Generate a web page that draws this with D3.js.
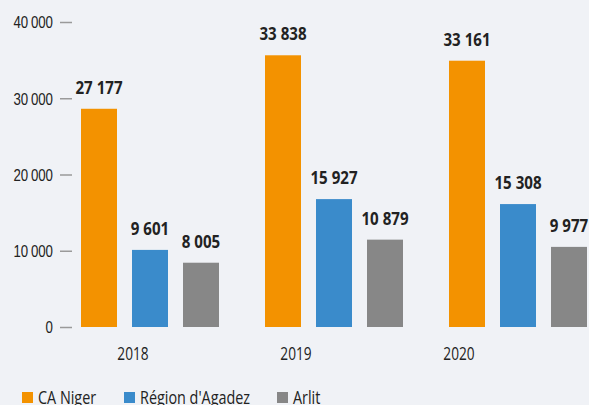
<!DOCTYPE html>
<html>
<head>
<meta charset="utf-8">
<script src="https://cdn.jsdelivr.net/npm/d3@7"></script>
<style>
  body { margin: 0; background: #f0f2f6; }
  svg { display: block; font-family: "Open Sans", sans-serif; }
</style>
</head>
<body>
<div id="chart"></div>
<script>
// Data
var years = ["2018", "2019", "2020"];
var seriesNames = ["CA Niger", "Région d'Agadez", "Arlit"];
var caNiger = [27177, 33838, 33161];
var agadez = [9601, 15927, 15308];
var arlit = [8005, 10879, 9977];
var yTicks = [0, 10000, 20000, 30000, 40000];
var colors = ["#f39200", "#3a8bcb", "#878787"];

var width = 589, height = 405;
// the original font is condensed, squeeze text horizontally
var narrowTick = 0.78, narrowYear = 0.76, narrowLegend = 0.8, narrowBold = 0.84;

var svg = d3.select("#chart").append("svg")
    .attr("width", width)
    .attr("height", height);

var series = [caNiger, agadez, arlit];
var rows = [];
years.forEach(function(yr, i) {
    series.forEach(function(s, j) {
        rows.push({year: yr, key: seriesNames[j], value: s[i], color: colors[j]});
    });
});

// bars sit a bit taller than the tick scale in the original, keep both
var y = d3.scaleLinear().domain([0, 40000]).range([327, 5.8]);
var yAxisScale = d3.scaleLinear().domain([0, 40000]).range([327, 22]);

var x0 = d3.scaleBand().domain(years).range([81, 81 + 184 * 3]);
var x1 = d3.scaleBand().domain(seriesNames).range([0, 138]).paddingInner(15 / 51);
var xLabels = d3.scalePoint().domain(years).range([133, 459]);

function fmt(v) { return d3.format(",")(v).replace(",", " "); }

// y axis
var yAxis = d3.axisLeft(yAxisScale)
    .tickValues(yTicks)
    .tickSize(12)
    .tickPadding(7)
    .tickFormat(function(d) { return d3.format(",")(d).replace(",", "\u2009"); });

var gy = svg.append("g")
    .attr("transform", "translate(72,0)")
    .call(yAxis);
gy.select(".domain").remove();
gy.selectAll(".tick line").attr("stroke", "#9a9a9a").attr("stroke-width", 1.5);
gy.selectAll(".tick text")
    .attr("fill", "#222")
    .style("font-size", "17px")
    .attr("dy", "0.35em")
    .attr("x", -19 / narrowTick)
    .attr("transform", "scale(" + narrowTick + ",1)");

// bars
svg.selectAll("rect.bar")
    .data(rows)
    .enter().append("rect")
    .attr("class", "bar")
    .attr("x", function(d) { return x0(d.year) + x1(d.key); })
    .attr("y", function(d) { return y(d.value); })
    .attr("width", x1.bandwidth())
    .attr("height", function(d) { return y(0) - y(d.value); })
    .attr("fill", function(d) { return d.color; });

// value labels
svg.selectAll("text.val")
    .data(rows)
    .enter().append("text")
    .attr("class", "val")
    .attr("transform", function(d) {
        var cx = x0(d.year) + x1(d.key) + x1.bandwidth() / 2;
        return "translate(" + cx + "," + (y(d.value) - 15) + ") scale(" + narrowBold + ",1)";
    })
    .attr("text-anchor", "middle")
    .attr("fill", "#222")
    .style("font-size", "18px")
    .style("font-weight", "bold")
    .text(function(d) { return fmt(d.value); });

// year labels
svg.selectAll("text.year")
    .data(years)
    .enter().append("text")
    .attr("class", "year")
    .attr("transform", function(d) { return "translate(" + xLabels(d) + ",360) scale(" + narrowYear + ",1)"; })
    .attr("text-anchor", "middle")
    .attr("fill", "#222")
    .style("font-size", "18px")
    .text(function(d) { return d; });

// legend
var legendX = [22, 124, 277];
var legend = svg.selectAll("g.legend")
    .data(seriesNames)
    .enter().append("g")
    .attr("class", "legend")
    .attr("transform", function(d, i) { return "translate(" + legendX[i] + ",392)"; });

legend.append("rect")
    .attr("width", 11)
    .attr("height", 11)
    .style("fill", function(d, i) { return colors[i]; });

legend.append("text")
    .attr("transform", "translate(16,12) scale(" + narrowLegend + ",1)")
    .attr("fill", "#222")
    .style("font-size", "18px")
    .text(function(d) { return d; });
</script>
</body>
</html>
